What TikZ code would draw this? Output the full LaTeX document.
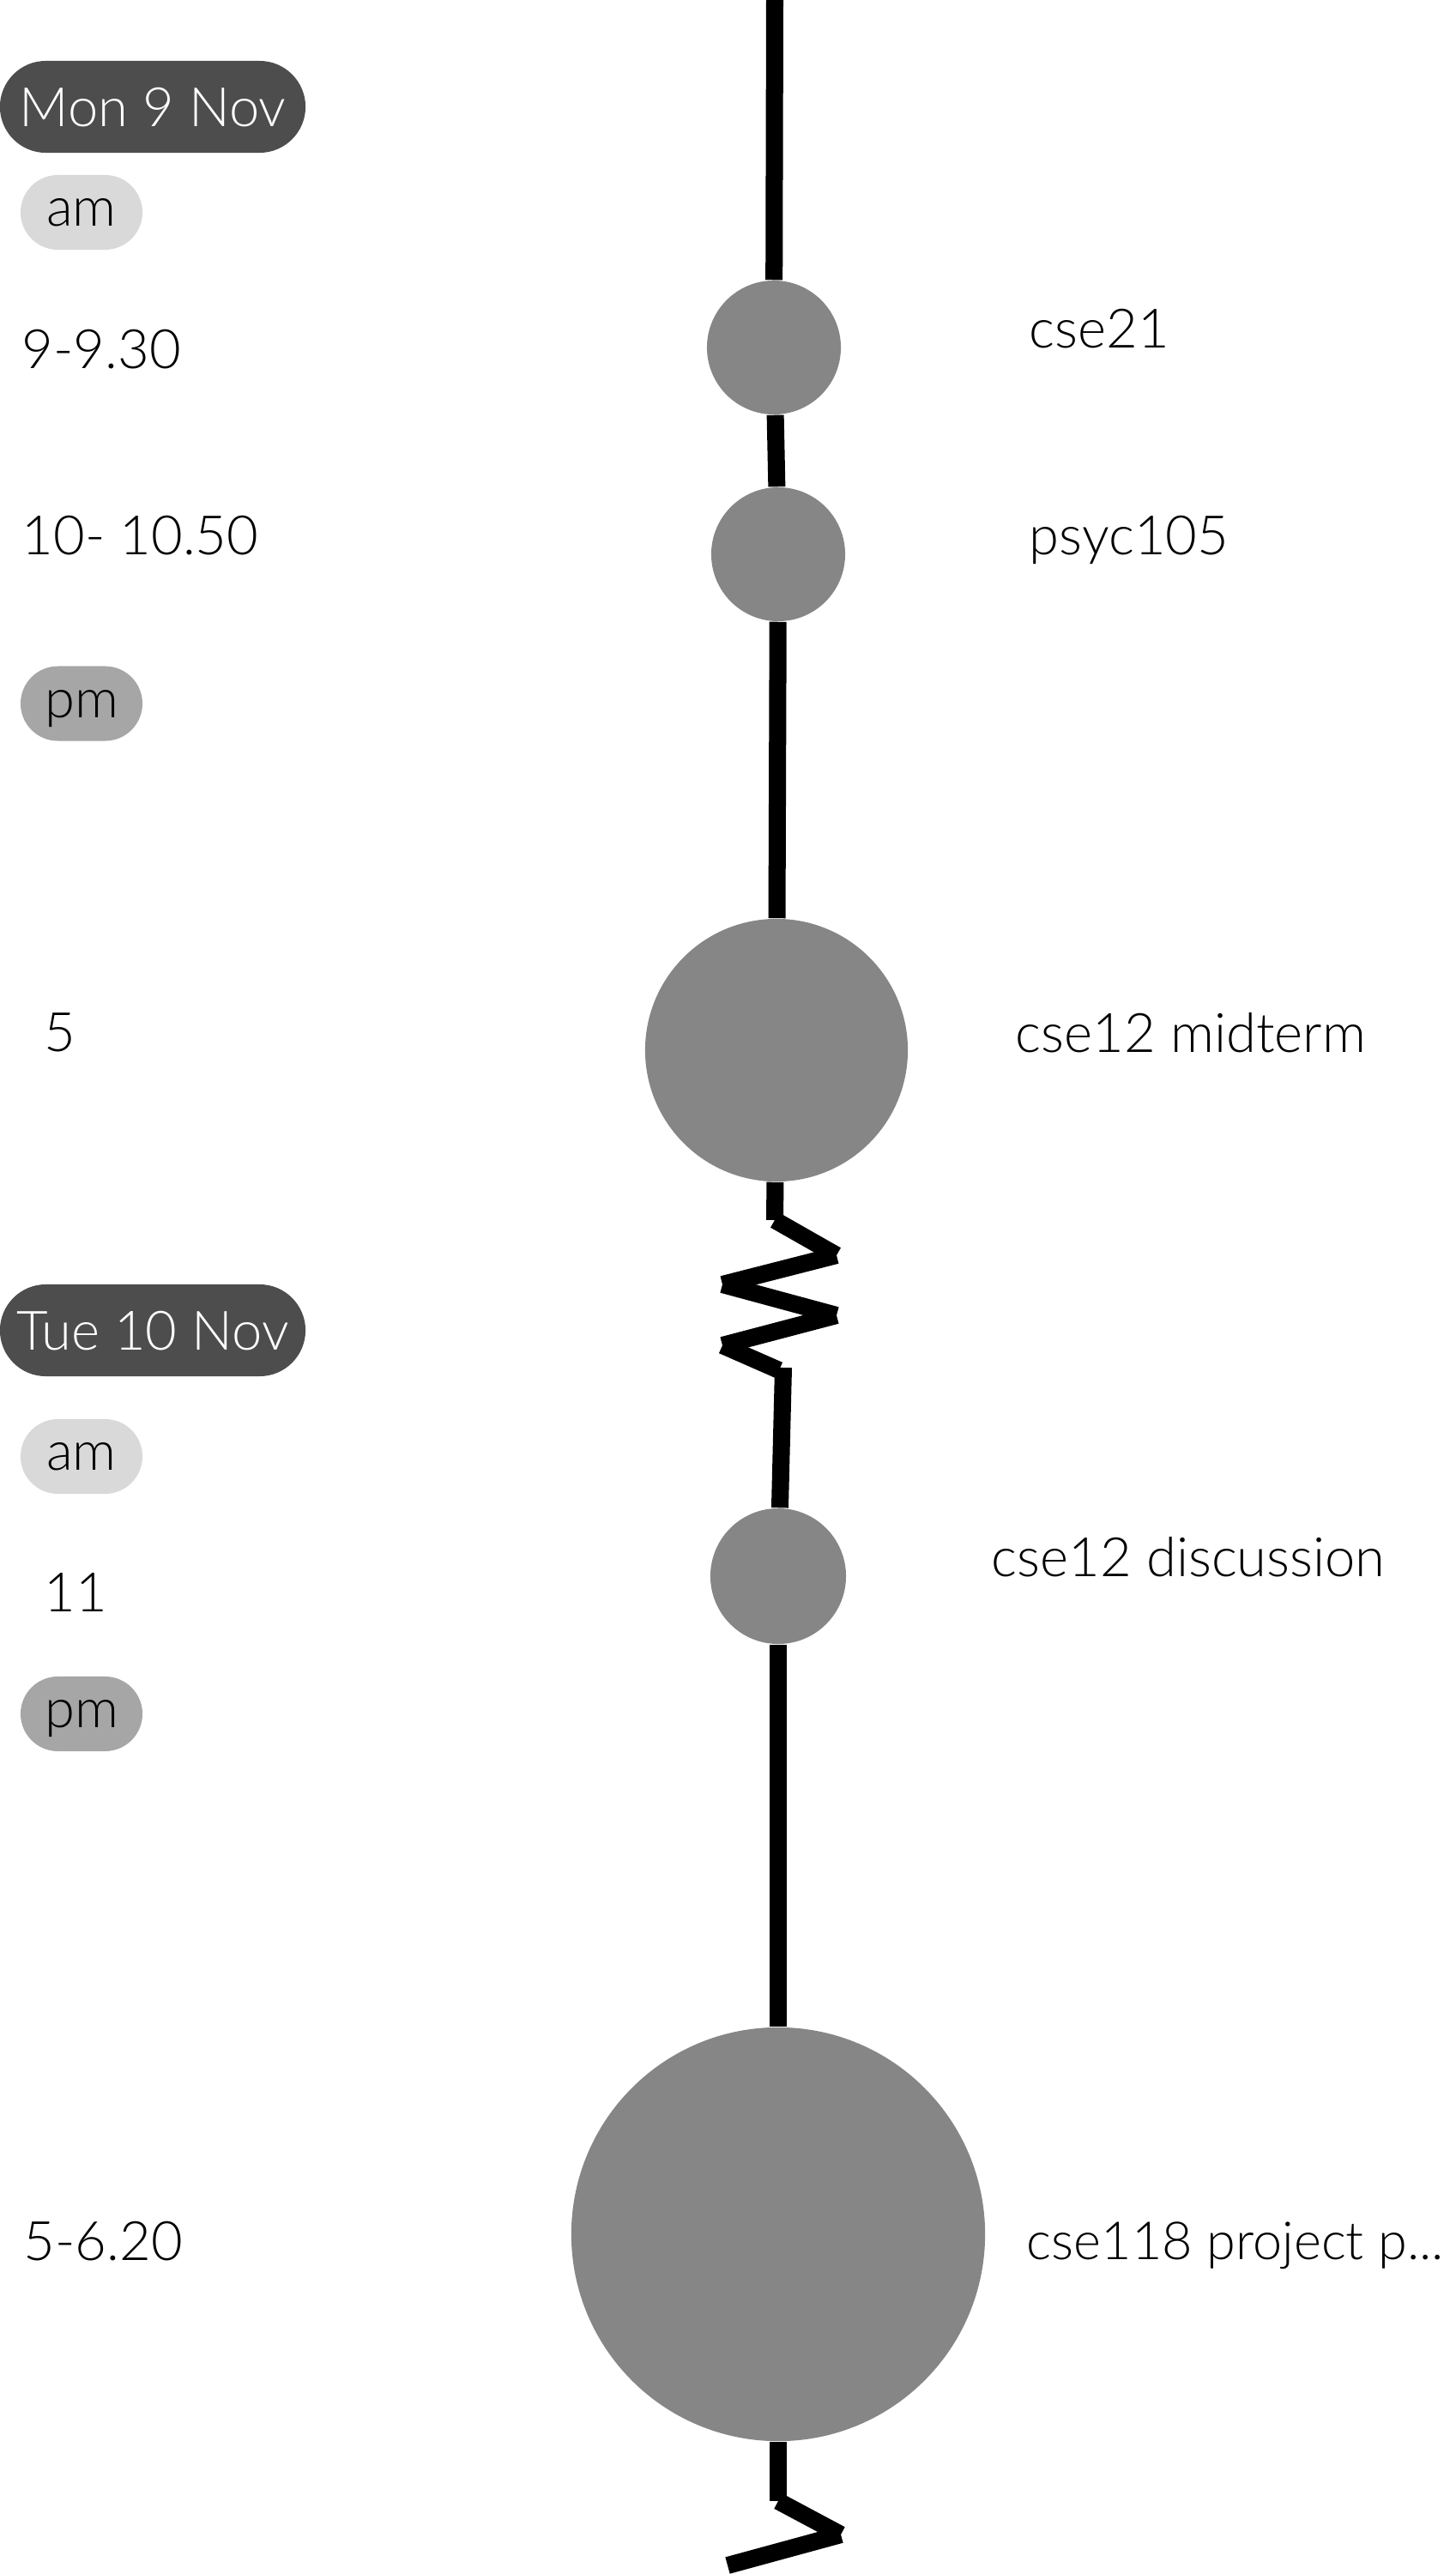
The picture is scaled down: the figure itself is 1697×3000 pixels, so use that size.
\documentclass[tikz,border=0pt]{standalone}
\usepackage{fontspec}
\setmainfont{Lato Light}
\usepackage{xcolor}

\definecolor{daygray}{HTML}{4D4D4D}
\definecolor{amgray}{HTML}{D9D9D9}
\definecolor{pmgray}{HTML}{A6A6A6}
\definecolor{dotgray}{HTML}{868686}

\tikzset{
  tl/.style={line width=0.2cm},
  dot/.style={circle,fill=dotgray,inner sep=0pt},
  day/.style={fill=daygray,text=white,rounded corners=0.535cm,minimum width=3.56cm,minimum height=1.07cm,inner sep=0pt,text height=12.9pt,text depth=0pt},
  half/.style={rounded corners=0.435cm,minimum width=1.42cm,minimum height=0.87cm,inner sep=0pt,text height=9.1pt,text depth=0pt},
  lbl/.style={anchor=base west,inner sep=0pt},
}

\begin{document}
\begin{tikzpicture}[x=0.01cm,y=-0.01cm,font=\fontsize{18pt}{21pt}\selectfont]

      \useasboundingbox (0,0) rectangle (1697,3000);

      \node[day] (mon) at (178,124.5) {Mon 9 Nov};
      \node[half,fill=amgray] (am1) at (95,247.5) {am};
      \node[half,fill=pmgray] (pm1) at (95,820) {pm};
      \node[day] (tue) at (178,1550.5) {Tue 10 Nov};
      \node[half,fill=amgray] (am2) at (95,1697.5) {am};
      \node[half,fill=pmgray] (pm2) at (95,1997.5) {pm};

      \node[lbl] (t1) at (25,429) {9-9.30};
      \node[lbl] (t2) at (25,646) {10- 10.50};
      \node[lbl] (t3) at (51,1225) {5};
      \node[lbl] (t4) at (51,1878) {11};
      \node[lbl] (t5) at (27,2634) {5-6.20};

      \node[dot,minimum size=1.56cm] (cse21) at (902,405) {};
      \node[dot,minimum size=1.56cm] (psyc) at (907,646) {};
      \node[dot,minimum size=3.06cm] (mid) at (905,1224) {};
      \node[dot,minimum size=1.58cm] (disc) at (907,1837) {};
      \node[dot,minimum size=4.82cm] (proj) at (907,2604) {};

      \node[lbl] (e1) at (1199,405) {cse21};
      \node[lbl] (e2) at (1199,646) {psyc105};
      \node[lbl] (e3) at (1183,1226) {cse12 midterm};
      \node[lbl] (e4) at (1155,1837) {cse12 discussion};
      \node[lbl,font=\fontsize{17.4pt}{21pt}\selectfont] (e5) at (1196,2633) {cse118 project p...};

      \coordinate (top) at (903,0);
      \coordinate (za0) at (903,1422);
      \coordinate (za1) at (975,1463);
      \coordinate (za2) at (842,1497);
      \coordinate (za3) at (975,1533);
      \coordinate (za4) at (842,1568);
      \coordinate (za5) at (908,1597);
      \coordinate (za6) at (913,1594);
      \coordinate (zb0) at (907,2915);
      \coordinate (zb1) at (980,2954);
      \coordinate (zb2) at (848,2990);

      \draw[tl] (top) -- (cse21);
      \draw[tl] (cse21) -- (psyc);
      \draw[tl] (psyc) -- (mid);
      \draw[tl] (mid) -- (za0);
      \foreach \a/\b in {za0/za1,za1/za2,za2/za3,za3/za4,za4/za5}
        \draw[tl] (\a) -- (\b);
      \draw[tl] (za6) -- (disc);
      \draw[tl] (disc) -- (proj);
      \draw[tl] (proj) -- (zb0);
      \foreach \a/\b in {zb0/zb1,zb1/zb2}
        \draw[tl] (\a) -- (\b);

    \end{tikzpicture}
\end{document}
